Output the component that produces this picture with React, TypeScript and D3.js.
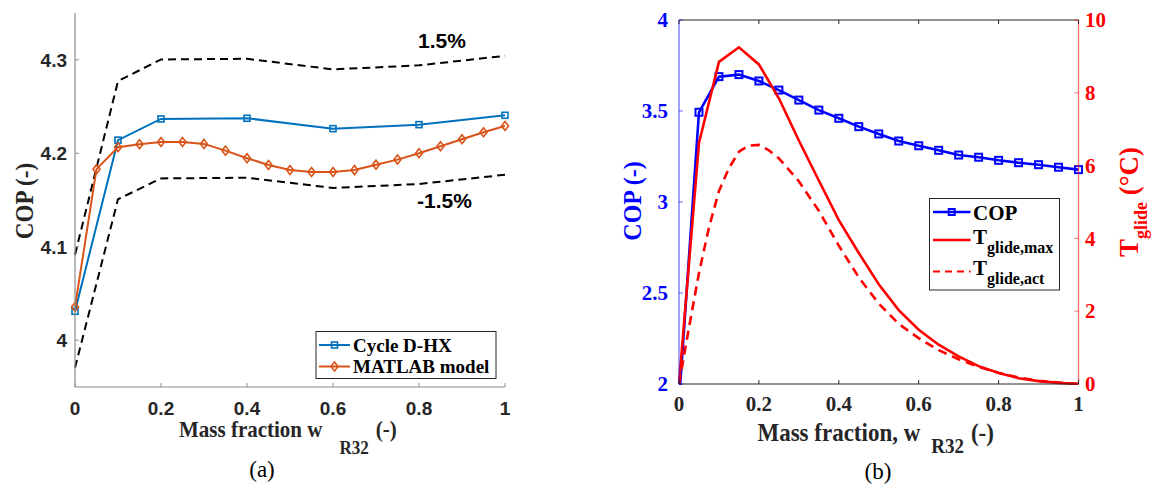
import React from "react";
import * as d3 from "d3";

// ---------- Panel (a) data ----------
const dhxX = [0, 0.1, 0.2, 0.4, 0.6, 0.8, 1];
const copDHX = [4.031, 4.214, 4.2367, 4.2374, 4.2263, 4.2306, 4.2406];
const upperBand = [4.0915, 4.2772, 4.3003, 4.301, 4.2897, 4.294, 4.3042];
const lowerBand = [3.9705, 4.1508, 4.1731, 4.1738, 4.1629, 4.1671, 4.177];
const matlabX = [0, 0.05, 0.1, 0.15, 0.2, 0.25, 0.3, 0.35, 0.4, 0.45, 0.5, 0.55, 0.6, 0.65, 0.7, 0.75, 0.8, 0.85, 0.9, 0.95, 1];
const copMatlab = [4.0356, 4.183, 4.2064, 4.2096, 4.212, 4.212, 4.21, 4.2028, 4.1947, 4.1875, 4.1821, 4.18, 4.18, 4.182, 4.1878, 4.1932, 4.2, 4.2075, 4.215, 4.2225, 4.2292];
const aXTicks = [0, 0.2, 0.4, 0.6, 0.8, 1];
const aXTickLabels = ["0", "0.2", "0.4", "0.6", "0.8", "1"];
const aYTicks = [4, 4.1, 4.2, 4.3];
const aYTickLabels = ["4", "4.1", "4.2", "4.3"];

// ---------- Panel (b) data ----------
const bX = [0, 0.05, 0.1, 0.15, 0.2, 0.25, 0.3, 0.35, 0.4, 0.45, 0.5, 0.55, 0.6, 0.65, 0.7, 0.75, 0.8, 0.85, 0.9, 0.95, 1];
const copB = [1.9, 3.493, 3.689, 3.7, 3.665, 3.615, 3.56, 3.505, 3.46, 3.414, 3.374, 3.335, 3.309, 3.284, 3.258, 3.246, 3.229, 3.216, 3.205, 3.191, 3.178];
const tGlideMax = [0, 6.62, 8.85, 9.25, 8.78, 7.85, 6.69, 5.59, 4.5, 3.6, 2.74, 2.03, 1.49, 1.08, 0.76, 0.49, 0.3, 0.16, 0.08, 0.03, 0];
const actX = [0, 0.025, 0.05, 0.075, 0.1, 0.125, 0.15, 0.175, 0.2, 0.225, 0.25, 0.3, 0.35, 0.4, 0.45, 0.5, 0.55, 0.6, 0.65, 0.7, 0.75, 0.8, 0.85, 0.9, 0.95, 1];
const tGlideAct = [0, 1.55, 3.05, 4.3, 5.3, 5.93, 6.38, 6.55, 6.57, 6.42, 6.2, 5.57, 4.76, 3.8, 2.93, 2.21, 1.65, 1.26, 0.93, 0.68, 0.47, 0.31, 0.18, 0.09, 0.04, 0];
const bXTicks = [0, 0.2, 0.4, 0.6, 0.8, 1];
const bXTickLabels = ["0", "0.2", "0.4", "0.6", "0.8", "1"];
const bYLTicks = [2, 2.5, 3, 3.5, 4];
const bYLTickLabels = ["2", "2.5", "3", "3.5", "4"];
const bYRTicks = [0, 2, 4, 6, 8, 10];
const bYRTickLabels = ["0", "2", "4", "6", "8", "10"];

const SANS = "'Liberation Sans', Arial, sans-serif";
const SERIF = "'Liberation Serif', 'Times New Roman', serif";
const DARK = "#262626";
const BLUE_A = "#0072BD";
const ORANGE_A = "#D95319";

function Square({ x, y, s, color, sw }: any) {
  return <rect x={x - s / 2} y={y - s / 2} width={s} height={s} fill="none" stroke={color} strokeWidth={sw} />;
}
function Diamond({ x, y, w, h, color, sw }: any) {
  return (
    <path
      d={`M${x},${y - h / 2}L${x + w / 2},${y}L${x},${y + h / 2}L${x - w / 2},${y}Z`}
      fill="none"
      stroke={color}
      strokeWidth={sw}
    />
  );
}

function PanelA() {
  const x = d3.scaleLinear().domain([0, 1]).range([75, 505]);
  const y = d3.scaleLinear().domain([3.95, 4.35]).range([387, 13]);
  const line = (xs: number[], ys: number[]) =>
    d3.line<number>().x((_, i) => x(xs[i])).y((d) => y(d))(ys) || "";
  const [x0, x1] = x.range();
  const [yb, yt] = y.range();
  return (
    <g>
      <path d={line(dhxX, upperBand)} fill="none" stroke="#000" strokeWidth={2} strokeDasharray="8,5" />
      <path d={line(dhxX, lowerBand)} fill="none" stroke="#000" strokeWidth={2} strokeDasharray="8,5" />
      <path d={line(dhxX, copDHX)} fill="none" stroke={BLUE_A} strokeWidth={2} />
      {copDHX.map((v, i) => (
        <Square key={"s" + i} x={x(dhxX[i])} y={y(v)} s={6} color={BLUE_A} sw={1.6} />
      ))}
      <path d={line(matlabX, copMatlab)} fill="none" stroke={ORANGE_A} strokeWidth={2} />
      {copMatlab.map((v, i) => (
        <Diamond key={"d" + i} x={x(matlabX[i])} y={y(v)} w={7} h={9} color={ORANGE_A} sw={1.6} />
      ))}
      <line x1={x0} x2={x0} y1={yb} y2={yt} stroke="#8c8c8c" strokeWidth={1.2} />
      <line x1={x0} x2={x1} y1={yb} y2={yb} stroke="#8c8c8c" strokeWidth={1.2} />
      {aXTicks.map((t, i) => (
        <g key={"xt" + i}>
          <line x1={x(t)} x2={x(t)} y1={yb} y2={yb - 4} stroke="#8c8c8c" strokeWidth={1} />
          <text x={x(t)} y={414.5} textAnchor="middle" fontFamily={SANS} fontWeight="bold" fontSize={19} fill={DARK}>
            {aXTickLabels[i]}
          </text>
        </g>
      ))}
      {aYTicks.map((t, i) => (
        <g key={"yt" + i}>
          <line x1={x0} x2={x0 + 4} y1={y(t)} y2={y(t)} stroke="#8c8c8c" strokeWidth={1} />
          <text x={67} y={y(t)} dy="0.36em" textAnchor="end" fontFamily={SANS} fontWeight="bold" fontSize={19} fill={DARK}>
            {aYTickLabels[i]}
          </text>
        </g>
      ))}
      <text x={418} y={48} fontFamily={SANS} fontWeight="bold" fontSize={21} fill="#000">1.5%</text>
      <text x={417} y={208} fontFamily={SANS} fontWeight="bold" fontSize={21} fill="#000">-1.5%</text>
      <text transform="translate(33,201) rotate(-90) scale(1.05,1.1)" textAnchor="middle" fontFamily={SERIF} fontWeight="bold" fontSize={22} fill={DARK}>
        COP (-)
      </text>
      <text transform="translate(179,437) scale(1,1.1)" fontFamily={SERIF} fontWeight="bold" fontSize={21} fill={DARK}>
        Mass fraction w
        <tspan dx={17} dy={15} fontSize={17}>R32</tspan>
        <tspan dx={7} dy={-15}>(-)</tspan>
      </text>
      <text x={262} y={477} textAnchor="middle" fontFamily={SERIF} fontSize={23} fill="#000">(a)</text>
      <rect x={316} y={331.5} width={180} height={47} fill="#fff" stroke={DARK} strokeWidth={1} />
      <line x1={319} x2={350} y1={345} y2={345} stroke={BLUE_A} strokeWidth={2} />
      <Square x={334.5} y={345} s={6} color={BLUE_A} sw={1.6} />
      <text x={353} y={345} dy="0.35em" fontFamily={SERIF} fontWeight="bold" fontSize={19} fill="#000">Cycle D-HX</text>
      <line x1={319} x2={350} y1={366.5} y2={366.5} stroke={ORANGE_A} strokeWidth={2} />
      <Diamond x={334.5} y={366.5} w={7} h={9} color={ORANGE_A} sw={1.6} />
      <text x={353} y={366.5} dy="0.35em" fontFamily={SERIF} fontWeight="bold" fontSize={19} fill="#000">MATLAB model</text>
    </g>
  );
}

function PanelB() {
  const x = d3.scaleLinear().domain([0, 1]).range([679, 1078.5]);
  const yL = d3.scaleLinear().domain([2, 4]).range([384, 20]);
  const yR = d3.scaleLinear().domain([0, 10]).range([384, 20]);
  const [x0, x1] = x.range();
  const [yb, yt] = yL.range();
  const lineL = d3.line<number>().x((_, i) => x(bX[i])).y((d) => yL(d));
  const lineMax = d3.line<number>().x((_, i) => x(bX[i])).y((d) => yR(d));
  const lineAct = d3.line<number>().x((_, i) => x(actX[i])).y((d) => yR(d));
  return (
    <g>
      <defs>
        <clipPath id="clipB">
          <rect x={x0 - 1} y={yt - 6} width={x1 - x0 + 8} height={yb - yt + 7} />
        </clipPath>
      </defs>
      <g clipPath="url(#clipB)">
        <path d={lineL(copB) || ""} fill="none" stroke="#0000ff" strokeWidth={2.6} />
        {copB.map((v, i) => (
          <Square key={"c" + i} x={x(bX[i])} y={yL(v)} s={7} color="#0000ff" sw={2} />
        ))}
        <path d={lineMax(tGlideMax) || ""} fill="none" stroke="#ff0000" strokeWidth={2.6} />
        <path d={lineAct(tGlideAct) || ""} fill="none" stroke="#ff0000" strokeWidth={2.6} strokeDasharray="9,6" />
      </g>
      <line x1={x0} x2={x1} y1={yt} y2={yt} stroke={DARK} strokeWidth={1} />
      <line x1={x0} x2={x1} y1={yb} y2={yb} stroke={DARK} strokeWidth={1} />
      <line x1={x0} x2={x0} y1={yb} y2={yt} stroke="#0000ff" strokeOpacity={0.6} strokeWidth={1.2} />
      <line x1={x1} x2={x1} y1={yb} y2={yt} stroke="#ff0000" strokeOpacity={0.55} strokeWidth={1.4} />
      {bXTicks.map((t, i) => (
        <g key={"bx" + i}>
          <line x1={x(t)} x2={x(t)} y1={yb} y2={yb - 4} stroke={DARK} strokeWidth={1} />
          <line x1={x(t)} x2={x(t)} y1={yt} y2={yt + 4} stroke={DARK} strokeWidth={1} />
          <text x={x(t)} y={411} textAnchor="middle" fontFamily={SERIF} fontWeight="bold" fontSize={21} fill={DARK}>
            {bXTickLabels[i]}
          </text>
        </g>
      ))}
      {bYLTicks.map((t, i) => (
        <g key={"byl" + i}>
          <line x1={x0} x2={x0 + 4} y1={yL(t)} y2={yL(t)} stroke="#0000ff" strokeOpacity={0.6} strokeWidth={1} />
          <text x={668} y={yL(t)} dy="0.34em" textAnchor="end" fontFamily={SERIF} fontWeight="bold" fontSize={21} fill="#0000ff">
            {bYLTickLabels[i]}
          </text>
        </g>
      ))}
      {bYRTicks.map((t, i) => (
        <g key={"byr" + i}>
          <line x1={x1} x2={x1 - 4} y1={yR(t)} y2={yR(t)} stroke="#ff0000" strokeOpacity={0.55} strokeWidth={1} />
          <text x={1085} y={yR(t)} dy="0.34em" textAnchor="start" fontFamily={SERIF} fontWeight="bold" fontSize={21} fill="#ff0000">
            {bYRTickLabels[i]}
          </text>
        </g>
      ))}
      <text transform="translate(641,201) rotate(-90) scale(1,1.08)" textAnchor="middle" fontFamily={SERIF} fontWeight="bold" fontSize={24} fill="#0000ff">
        COP (-)
      </text>
      <text transform="translate(1138,202) rotate(-90)" textAnchor="middle" fontFamily={SERIF} fontWeight="bold" fontSize={27} fill="#ff0000">
        T<tspan dy={9} fontSize={18}>glide</tspan>
        <tspan dy={-9}> (°C)</tspan>
      </text>
      <text transform="translate(757.5,441) scale(1,1.1)" fontFamily={SERIF} fontWeight="bold" fontSize={23} fill={DARK}>
        Mass fraction, w
        <tspan dx={11} dy={11} fontSize={19}>R32</tspan>
        <tspan dx={7} dy={-11}>(-)</tspan>
      </text>
      <text x={878} y={479} textAnchor="middle" fontFamily={SERIF} fontSize={23} fill="#000">(b)</text>
      <rect x={929.5} y={198.5} width={130} height={91.5} fill="#fff" stroke={DARK} strokeWidth={1} />
      <line x1={933} x2={970.5} y1={212} y2={212} stroke="#0000ff" strokeWidth={2.6} />
      <Square x={951.7} y={212} s={6} color="#0000ff" sw={2} />
      <text x={973} y={212} dy="0.36em" fontFamily={SERIF} fontWeight="bold" fontSize={21} fill="#000">COP</text>
      <line x1={933} x2={970.5} y1={240} y2={240} stroke="#ff0000" strokeWidth={2.6} />
      <text x={973} y={243.5} fontFamily={SERIF} fontWeight="bold" fontSize={21} fill="#000">
        T<tspan dy={9} fontSize={16}>glide,max</tspan>
      </text>
      <line x1={933} x2={970.5} y1={271.5} y2={271.5} stroke="#ff0000" strokeWidth={2} strokeDasharray="7,5" />
      <text x={973} y={275} fontFamily={SERIF} fontWeight="bold" fontSize={21} fill="#000">
        T<tspan dy={9} fontSize={16}>glide,act</tspan>
      </text>
    </g>
  );
}

export default function App() {
  return (
    <svg
      width={1155}
      height={484}
      viewBox="0 0 1155 484"
      style={{ position: "absolute", left: 0, top: 0, background: "#fff" }}
    >
      <rect x={0} y={0} width={1155} height={484} fill="#fff" />
      <PanelA />
      <PanelB />
    </svg>
  );
}
